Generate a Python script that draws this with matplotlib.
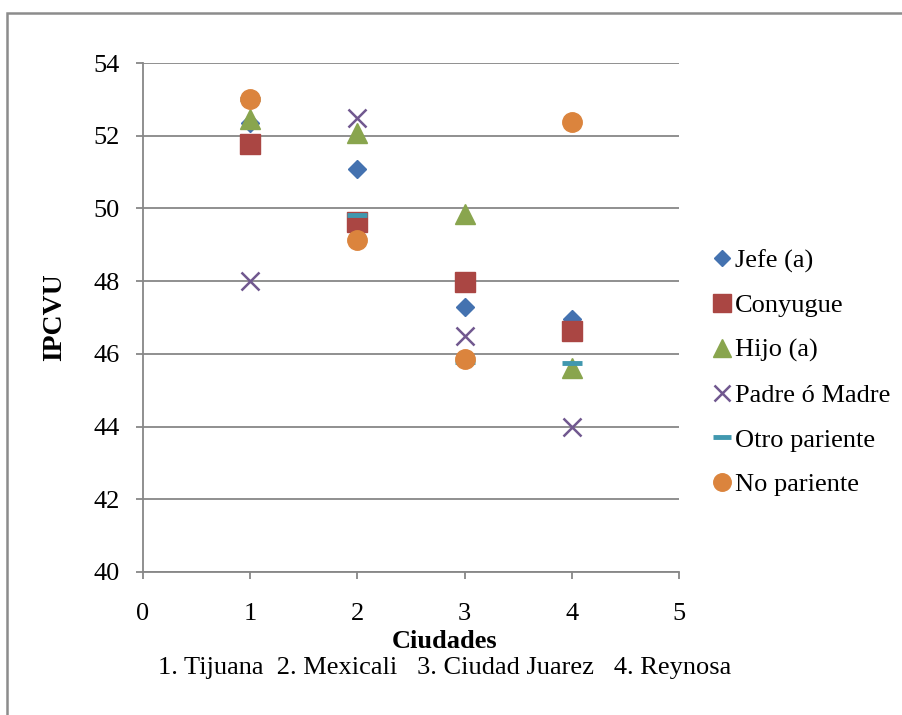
import matplotlib.pyplot as plt
from matplotlib.patches import Rectangle

plt.rcParams['font.family'] = ['Liberation Serif', 'DejaVu Serif']

ciudades = [1, 2, 3, 4]
jefe = [52.35, 51.08, 47.3, 46.95]
conyugue = [51.77, 49.63, 47.98, 46.62]
hijo = [52.45, 52.07, 49.85, 45.62]
padre = [48.0, 52.5, 46.5, 44.0]
otro = [53.0, 49.83, 45.78, 45.75]
no_pariente = [53.0, 49.13, 45.86, 52.37]

series = [
    ('Jefe (a)', jefe, 'D', '#4472B0', 9.5),
    ('Conyugue', conyugue, 's', '#AA4643', 14),
    ('Hijo (a)', hijo, '^', '#89A54E', 14),
    ('Padre ó Madre', padre, 'x', '#71588F', 13),
    ('Otro pariente', otro, '_', '#4198AF', 14),
    ('No pariente', no_pariente, 'o', '#DB843D', 14),
]

fig = plt.figure(figsize=(9.03, 7.15), dpi=100)
ax = fig.add_axes([143 / 903, 1 - 572 / 715, 536 / 903, 509 / 715])

handles = []
for name, vals, mk, col, ms in series:
    if mk in ('x', '_'):
        h, = ax.plot(ciudades, vals, ls='none', marker=mk, ms=ms, color=col,
                     mew=1.8 if mk == 'x' else 3.5, label=name)
    else:
        h, = ax.plot(ciudades, vals, ls='none', marker=mk, ms=ms, color=col,
                     mec=col, label=name)
    handles.append(h)

ax.set_xlim(0, 5)
ax.set_ylim(40, 54)
ax.set_xticks(range(0, 6))
ax.set_yticks(range(40, 55, 2))
ax.yaxis.grid(True, color='#878787', lw=1.3)
ax.set_axisbelow(True)
for s in ['top', 'right']:
    ax.spines[s].set_visible(False)
for s in ['left', 'bottom']:
    ax.spines[s].set_color('#878787')
    ax.spines[s].set_linewidth(1.3)
ax.tick_params(colors='#878787', labelcolor='black', labelsize=19, length=5,
               width=1.3, direction='out')
ax.tick_params(axis='y', pad=12)
ax.tick_params(axis='x', pad=17)

ax.set_ylabel('IPCVU', fontsize=20, fontweight='bold', va='center')
ax.yaxis.set_label_coords((55 - 143) / 536, 0.5)
ax.set_xlabel('Ciudades', fontsize=19, fontweight='bold', va='center')
ax.xaxis.set_label_coords((445 - 143) / 536, -(642 - 572) / 509)
fig.text(445 / 903, 1 - 668 / 715, '1. Tijuana  2. Mexicali   3. Ciudad Juarez   4. Reynosa',
         fontsize=19, ha='center', va='center')

fig.legend(handles=handles, loc='center left', bbox_to_anchor=(0.788, 0.479),
           frameon=False, fontsize=19, handlelength=0.8, handletextpad=0.1,
           labelspacing=0.8, borderpad=0, borderaxespad=0, markerscale=0.9)

fig.patches.append(Rectangle((7 / 903, -0.1), 1.2, 1.1 - 13 / 715,
                             transform=fig.transFigure, fill=False,
                             edgecolor='#8c8c8c', lw=1.8))

fig.savefig('out.png', dpi=100)
